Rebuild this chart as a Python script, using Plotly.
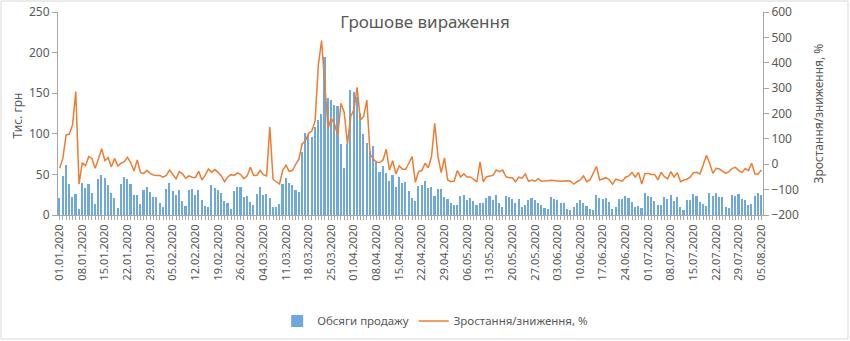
import plotly.graph_objects as go

# ---- data -------------------------------------------------------------
tick_labels = ["01.01.2020", "08.01.2020", "15.01.2020", "22.01.2020", "29.01.2020",
               "05.02.2020", "12.02.2020", "19.02.2020", "26.02.2020", "04.03.2020",
               "11.03.2020", "18.03.2020", "25.03.2020", "01.04.2020", "08.04.2020",
               "15.04.2020", "22.04.2020", "29.04.2020", "06.05.2020", "13.05.2020",
               "20.05.2020", "27.05.2020", "03.06.2020", "10.06.2020", "17.06.2020",
               "24.06.2020", "01.07.2020", "08.07.2020", "15.07.2020", "22.07.2020",
               "29.07.2020", "05.08.2020"]

sales = [
    21.3, 47.6, 61.0, 38.0, 21.7, 25.8, 7.4, 39.8, 33.6, 38.6,
    27.5, 13.0, 44.7, 49.0, 46.0, 36.5, 27.5, 20.5, 9.0, 38.0,
    47.0, 44.0, 37.8, 24.6, 24.6, 13.5, 30.4, 34.5, 28.3, 22.0,
    22.0, 14.4, 9.5, 32.4, 39.4, 30.0, 25.0, 30.4, 16.9, 11.5,
    30.8, 31.6, 25.0, 31.0,
    18.0, 11.0, 9.8, 36.5, 32.8, 30.4, 27.0, 16.8, 14.8, 7.8,
    30.0, 34.5, 34.0, 21.8, 23.0, 15.6, 12.7, 26.3, 34.5, 24.2,
    26.3, 20.5, 10.3, 10.3, 13.1, 37.8, 45.2, 39.4, 37.4, 30.8,
    28.7, 78.0, 100.6, 99.0, 96.5, 108.8, 117.4, 124.8, 194.0, 143.7,
    142.0, 135.5, 134.2, 87.4,
    57.9, 88.0, 153.5, 151.0, 145.0, 125.6, 99.7, 88.7, 79.2, 84.6,
    66.5, 53.0, 60.3, 51.3, 42.3, 49.7, 34.9, 46.8, 39.4, 40.6,
    29.6, 20.9, 16.8, 35.7, 36.9, 42.3, 33.6, 34.9, 23.0, 32.0,
    32.0, 21.8, 19.3, 14.4, 11.9, 11.9, 23.4, 25.0, 18.9, 20.5,
    17.2, 12.7, 14.6,
    14.8, 21.3, 23.4, 18.0, 25.0, 14.4, 9.4, 23.4, 22.2, 19.3,
    15.2, 19.3, 9.4, 12.3, 18.5, 21.3, 18.0, 14.4, 12.7, 8.2,
    7.4, 22.2, 19.3, 18.0, 15.2, 14.4, 7.8, 6.2, 10.3, 14.4,
    18.0, 15.2, 11.1, 7.0, 6.2, 24.2, 20.5, 20.1, 21.3, 15.6,
    7.0, 10.3,
    20.1, 19.3, 23.0, 21.3, 16.0, 9.4, 11.1, 8.2, 26.7, 23.8,
    21.8, 16.8, 11.9, 11.9, 21.8, 19.3, 25.0, 17.6, 21.8, 9.9,
    5.7, 18.0, 18.5, 25.4, 23.4, 15.6, 14.0, 11.1, 26.7, 23.0,
    26.7, 22.2, 22.2, 9.4, 8.6, 24.6, 23.4, 25.9, 19.3, 18.5,
    12.3, 13.5, 23.0, 26.7, 24.6,
]

change_pct = [
    -16, 23, 115, 119, 155, 286, -78, 6, -6, 30,
    23, -16, 21, 61, 14, 26, -11, 23, -7, 4,
    10, 27, 6, -27, 17, -33, -36, -24, -36, -42,
    -44, -44, -51, -44, -23, -42, -57, -29, -38, -55,
    -46, -51, -52, -28,
    -62, -44, -19, -32, -21, -32, -46, -69, -50, -41,
    -44, -34, -41, -57, -46, -12, -44, -43, -25, -41,
    -46, 147, -59, -69, -78, -23, -4, -28, -25, 0,
    21, 80, 92, 122, 131, 170, 391, 487, 330, 142,
    181, 157, 115, 240,
    205, 80, 188, 214, 303, 174, 188, 253, 40, 21,
    8, 7, 17, 59, -23, 14, -38, -6, -20, -20,
    4, 30, -71, -29, -25, 4, -14, 30, 161, 30,
    -33, 25, -62, -69, -66, -25, -50, -38, -50, -50,
    -59, -70, 9,
    -69, -49, -46, -44, -23, -29, -23, -49, -53, -53,
    -69, -51, -55, -38, -67, -62, -67, -57, -67, -67,
    -65, -63, -65, -66, -67, -66, -65, -67, -78, -69,
    -62, -46, -69, -62, -36, -9, -62, -59, -53, -62,
    -79, -59,
    -63, -67, -51, -46, -32, -51, -32, -78, -36, -36,
    -40, -40, -62, -32, -49, -58, -29, -51, -33, -69,
    -62, -59, -51, -33, -32, -38, -3, 35, 4, -36,
    -16, -19, -27, -36, -29, -16, -12, -25, -33, -17,
    -25, 4, -38, -38, -23,
]

n = len(sales)
days = list(range(n))
tick_pos = list(range(0, n, 7))

GREY = "#595959"
AXIS = "#a6a6a6"
FONT = "Noto Sans, Liberation Sans, sans-serif"

fig = go.Figure()
fig.add_trace(go.Bar(x=days, y=sales, name="Обсяги продажу",
                     marker=dict(color="#6FA8DC", line=dict(width=0)),
                     width=0.5, yaxis="y"))
fig.add_trace(go.Scatter(x=days[:len(change_pct)], y=change_pct,
                         name="Зростання/зниження, %", mode="lines",
                         line=dict(color="#ED7D31", width=1.5), yaxis="y2"))

fig.update_layout(
    width=850, height=341,
    margin=dict(l=58, r=87, t=12, b=126, autoexpand=False),
    paper_bgcolor="white", plot_bgcolor="white",
    font=dict(family=FONT, size=11, color=GREY),
    bargap=0,
    title=dict(text="Грошове вираження", x=0.5, xref="container", xanchor="center",
               y=1 - 22 / 341, yref="container", yanchor="middle",
               font=dict(family=FONT, size=17, color=GREY)),
    xaxis=dict(range=[-0.5, n - 0.5], tickmode="array", tickvals=tick_pos[:len(tick_labels)],
               ticktext=tick_labels, tickangle=-90, ticks="outside", ticklen=4,
               tickcolor=AXIS, showline=True, linecolor=AXIS, showgrid=False,
               zeroline=False, tickfont=dict(size=11, color=GREY),
               minor=dict(dtick=1, tick0=0, ticks="outside", ticklen=4, tickcolor=AXIS,
                          showgrid=False)),
    yaxis=dict(range=[0, 250], dtick=50, ticks="outside", ticklen=5, tickcolor=AXIS,
               showline=True, linecolor=AXIS, showgrid=False, zeroline=False,
               tickfont=dict(size=12, color=GREY)),
    yaxis2=dict(range=[-200, 600], dtick=100, overlaying="y", side="right",
                ticks="outside", ticklen=5, tickcolor=AXIS, showline=True,
                linecolor=AXIS, showgrid=False, zeroline=False,
                tickfont=dict(size=12, color=GREY)),
    legend=dict(orientation="h", x=0.535, xanchor="center", y=-0.522, yanchor="middle",
                font=dict(size=11.5, color=GREY), bgcolor="rgba(0,0,0,0)",
                itemwidth=30, tracegroupgap=0),
    annotations=[
        dict(text="Тис. грн", xref="paper", yref="paper", x=(18 - 58) / 705, y=0.49,
             xanchor="center", yanchor="middle", textangle=-90, showarrow=False,
             font=dict(size=12, color=GREY)),
        dict(text="Зростання/зниження, %", xref="paper", yref="paper",
             x=(818 - 58) / 705, y=0.50, xanchor="center", yanchor="middle",
             textangle=-90, showarrow=False, font=dict(size=12, color=GREY)),
    ],
    shapes=[dict(type="rect", xref="paper", yref="paper",
                 x0=(1 - 58) / 705, x1=(848 - 58) / 705,
                 y0=(215 - 339) / 203, y1=(215 - 1) / 203,
                 line=dict(color="#d9d9d9", width=1), fillcolor="rgba(0,0,0,0)",
                 layer="below")],
)

fig.write_html("out.html", config={"displayModeBar": False})
